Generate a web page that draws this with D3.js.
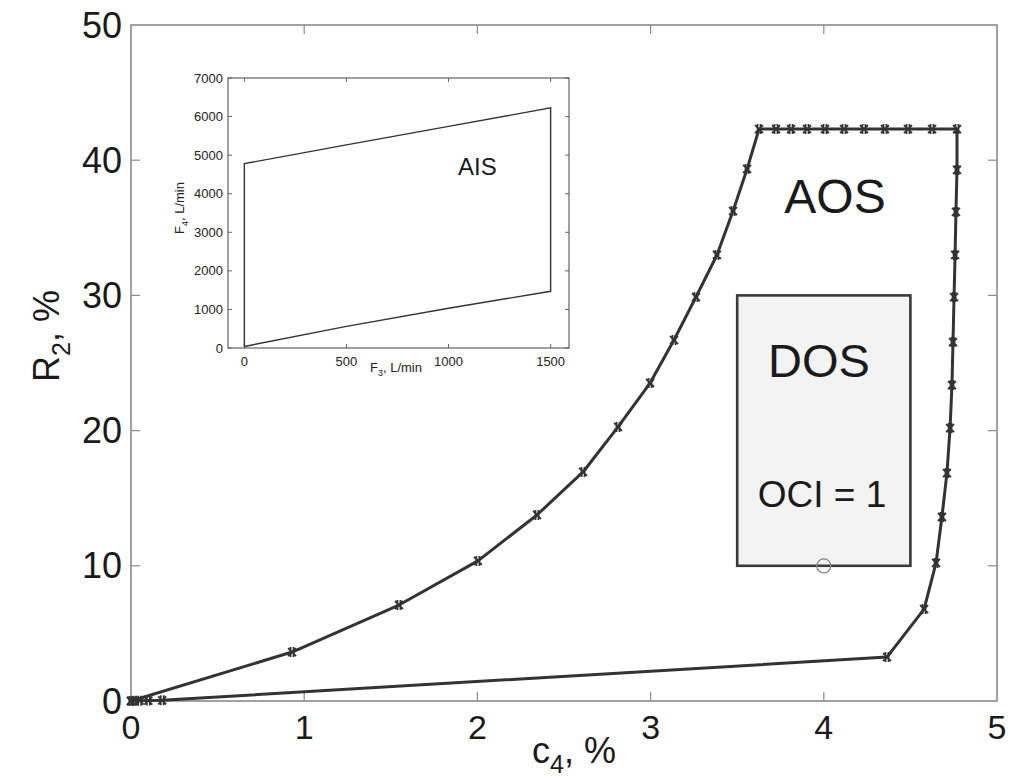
<!DOCTYPE html>
<html>
<head>
<meta charset="utf-8">
<script src="https://cdn.jsdelivr.net/npm/d3@7"></script>
<style>
  html, body { margin: 0; padding: 0; background: #fff; }
  svg { display: block; font-family: "Liberation Sans", Arial, sans-serif; }
</style>
</head>
<body>
<svg id="chart" width="1010" height="784"></svg>
<script>
// Operating-space boundary (AOS): c4 in %, R2 in %
const aosC4 = [0, 0.93, 1.547, 2.003, 2.344, 2.610, 2.812, 2.997, 3.135, 3.262, 3.383, 3.476, 3.557,
  3.626, 3.724, 3.811, 3.903, 4.007, 4.117, 4.232, 4.353, 4.486, 4.625, 4.769,
  4.769, 4.763, 4.758, 4.752, 4.746, 4.740, 4.729, 4.711, 4.682, 4.648, 4.579, 4.365,
  0.18, 0.10, 0.05, 0.02, 0];
const aosR2 = [0, 3.62, 7.10, 10.36, 13.76, 16.94, 20.27, 23.52, 26.70, 29.88, 32.99, 36.24, 39.35,
  42.3, 42.3, 42.3, 42.3, 42.3, 42.3, 42.3, 42.3, 42.3, 42.3, 42.3,
  39.28, 36.17, 32.99, 29.88, 26.55, 23.37, 20.19, 16.86, 13.61, 10.21, 6.80, 3.25,
  0.05, 0.03, 0.02, 0.01, 0];

// Desired operating space (DOS) box corners and nominal point
const dosC4 = [3.5, 4.5];
const dosR2 = [10, 30];
const nominalPoint = [4.0, 10.0];

// Main axes ticks
const mainXTicks = [0, 1, 2, 3, 4, 5];
const mainYTicks = [0, 10, 20, 30, 40, 50];

// Available input space (AIS): F3, F4 in L/min
const aisF3 = [0, 0, 500, 1000, 1500, 1500, 1000, 500, 0];
const aisF4 = [40, 4780, 5265, 5745, 6225, 1470, 1030, 560, 40];
const insetXTicks = [0, 500, 1000, 1500];
const insetYTicks = [0, 1000, 2000, 3000, 4000, 5000, 6000, 7000];

const svg = d3.select("#chart");

// ---------- main plot ----------
const x = d3.scaleLinear().domain([0, 5]).range([131, 997]);
const y = d3.scaleLinear().domain([0, 50]).range([701, 25]);

const frameColor = "#8a8a8a";
// frame
svg.append("rect")
  .attr("x", x(0)).attr("y", y(50))
  .attr("width", x(5) - x(0)).attr("height", y(0) - y(50))
  .attr("fill", "#fff").attr("stroke", frameColor).attr("stroke-width", 1.6);

// inward ticks on all four sides
const tickLen = 9;
const tk = svg.append("g").attr("stroke", frameColor).attr("stroke-width", 1.2);
mainXTicks.slice(1, -1).forEach(v => {
  tk.append("line").attr("x1", x(v)).attr("x2", x(v)).attr("y1", y(0)).attr("y2", y(0) - tickLen);
  tk.append("line").attr("x1", x(v)).attr("x2", x(v)).attr("y1", y(50)).attr("y2", y(50) + tickLen);
});
mainYTicks.slice(1, -1).forEach(v => {
  tk.append("line").attr("x1", x(0)).attr("x2", x(0) + tickLen).attr("y1", y(v)).attr("y2", y(v));
  tk.append("line").attr("x1", x(5)).attr("x2", x(5) - tickLen).attr("y1", y(v)).attr("y2", y(v));
});

// tick labels
svg.append("g").selectAll("text").data(mainXTicks).join("text")
  .attr("x", d => x(d)).attr("y", 739)
  .attr("text-anchor", "middle").attr("font-size", 34).attr("fill", "#1a1a1a")
  .text(d => d);
svg.append("g").selectAll("text").data(mainYTicks).join("text")
  .attr("x", 122).attr("y", d => y(d) + 12.5)
  .attr("text-anchor", "end").attr("font-size", 36).attr("fill", "#1a1a1a")
  .text(d => d);

// axis titles
const xt = svg.append("text").attr("x", 532).attr("y", 763)
  .attr("font-size", 36).attr("fill", "#1a1a1a");
xt.append("tspan").text("c");
xt.append("tspan").attr("font-size", 25).attr("dy", 10).text("4");
xt.append("tspan").attr("dy", -10).text(", %");

const yt = svg.append("text")
  .attr("transform", "translate(59,382) rotate(-90)")
  .attr("font-size", 36).attr("fill", "#1a1a1a");
yt.append("tspan").text("R");
yt.append("tspan").attr("font-size", 25).attr("dy", 11).text("2");
yt.append("tspan").attr("dy", -11).text(", %");

// DOS box
svg.append("rect")
  .attr("x", x(dosC4[0])).attr("y", y(dosR2[1]))
  .attr("width", x(dosC4[1]) - x(dosC4[0])).attr("height", y(dosR2[0]) - y(dosR2[1]))
  .attr("fill", "#f3f3f3").attr("stroke", "#3a3a3a").attr("stroke-width", 2.6);

svg.append("circle")
  .attr("cx", x(nominalPoint[0])).attr("cy", y(nominalPoint[1])).attr("r", 7)
  .attr("fill", "none").attr("stroke", "#888").attr("stroke-width", 1.3);

// AOS boundary
const aos = aosC4.map((c, i) => [c, aosR2[i]]);
const line = d3.line().x(d => x(d[0])).y(d => y(d[1]));
svg.append("path").datum(aos).attr("d", line)
  .attr("fill", "none").attr("stroke", "#333").attr("stroke-width", 3)
  .attr("stroke-linejoin", "round");

svg.append("g").selectAll("path").data(aos).join("path")
  .attr("transform", d => `translate(${x(d[0])},${y(d[1])})`)
  .attr("d", "M-4,-4L4,4M-4,4L4,-4M-1.5,-5L-1.5,5M1.5,-5L1.5,5")
  .attr("fill", "none").attr("stroke", "#333").attr("stroke-width", 1.8);

// region labels
svg.append("text").attr("x", 835).attr("y", 213).attr("text-anchor", "middle")
  .attr("font-size", 48).attr("fill", "#1a1a1a").text("AOS");
svg.append("text").attr("x", 819).attr("y", 377).attr("text-anchor", "middle")
  .attr("font-size", 47).attr("fill", "#1a1a1a").text("DOS");
svg.append("text").attr("x", 822).attr("y", 507).attr("text-anchor", "middle")
  .attr("font-size", 37).attr("fill", "#1a1a1a").text("OCI = 1");

// ---------- inset: AIS ----------
const xi = d3.scaleLinear().domain([-80, 1590]).range([228, 569]);
const yi = d3.scaleLinear().domain([0, 7000]).range([348, 78]);
const inset = svg.append("g");
const insetColor = "#555";

inset.append("rect")
  .attr("x", xi(-80)).attr("y", yi(7000))
  .attr("width", xi(1590) - xi(-80)).attr("height", yi(0) - yi(7000))
  .attr("fill", "#fff").attr("stroke", insetColor).attr("stroke-width", 1.1);

const itk = inset.append("g").attr("stroke", insetColor).attr("stroke-width", 0.9);
insetXTicks.forEach(v => {
  itk.append("line").attr("x1", xi(v)).attr("x2", xi(v)).attr("y1", yi(0)).attr("y2", yi(0) - 4);
  itk.append("line").attr("x1", xi(v)).attr("x2", xi(v)).attr("y1", yi(7000)).attr("y2", yi(7000) + 4);
});
insetYTicks.forEach(v => {
  itk.append("line").attr("x1", xi(-80)).attr("x2", xi(-80) + 4).attr("y1", yi(v)).attr("y2", yi(v));
  itk.append("line").attr("x1", xi(1590)).attr("x2", xi(1590) - 4).attr("y1", yi(v)).attr("y2", yi(v));
});

inset.append("g").selectAll("text").data(insetXTicks).join("text")
  .attr("x", d => xi(d)).attr("y", 366)
  .attr("text-anchor", "middle").attr("font-size", 13).attr("fill", "#222")
  .text(d => d);
inset.append("g").selectAll("text").data(insetYTicks).join("text")
  .attr("x", 223).attr("y", d => yi(d) + 4.5)
  .attr("text-anchor", "end").attr("font-size", 13).attr("fill", "#222")
  .text(d => d);

const ixt = inset.append("text").attr("x", 370).attr("y", 372)
  .attr("font-size", 13).attr("fill", "#222");
ixt.append("tspan").text("F");
ixt.append("tspan").attr("font-size", 9).attr("dy", 4).text("3");
ixt.append("tspan").attr("dy", -4).text(", L/min");

const iyt = inset.append("text")
  .attr("transform", "translate(184,234) rotate(-90)")
  .attr("font-size", 13).attr("fill", "#222");
iyt.append("tspan").text("F");
iyt.append("tspan").attr("font-size", 9).attr("dy", 4).text("4");
iyt.append("tspan").attr("dy", -4).text(", L/min");

const ais = aisF3.map((f, i) => [f, aisF4[i]]);
inset.append("path").datum(ais)
  .attr("d", d3.line().x(d => xi(d[0])).y(d => yi(d[1])))
  .attr("fill", "none").attr("stroke", "#333").attr("stroke-width", 1.4);

inset.append("text").attr("x", 458).attr("y", 175)
  .attr("font-size", 24).attr("fill", "#1a1a1a").text("AIS");
</script>
</body>
</html>
